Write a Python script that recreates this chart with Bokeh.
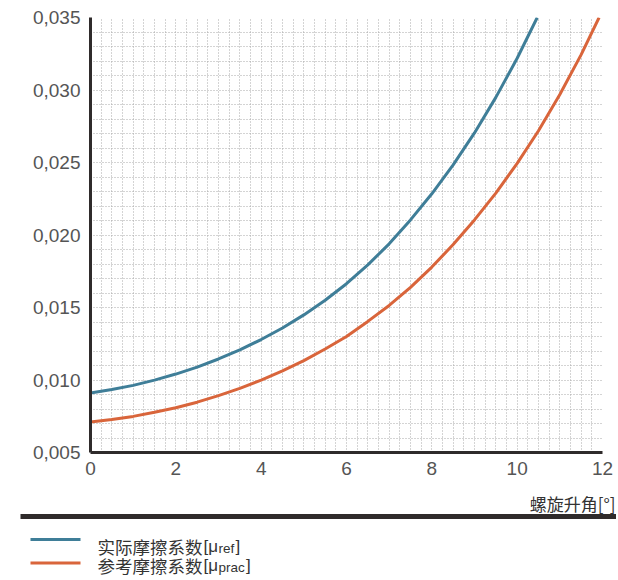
from bokeh.plotting import figure
from bokeh.models import Range1d, FixedTicker, SingleIntervalTicker, CustomJSTickFormatter, Label
from bokeh.layouts import column
from bokeh.embed import file_html
from bokeh.resources import INLINE

# ---- data ----
angle_ref = [0, 0.5, 1, 1.5, 2, 2.5, 3, 3.5, 4, 4.5, 5, 5.5, 6, 6.5, 7, 7.5, 8, 8.5, 9, 9.5, 10, 10.47]
mu_ref = [0.00910, 0.00934, 0.00963, 0.00999, 0.01041, 0.01089, 0.01145, 0.01208, 0.01279, 0.01359,
          0.01449, 0.01550, 0.01664, 0.01794, 0.01939, 0.02104, 0.02284, 0.02484, 0.02704, 0.02949,
          0.03219, 0.03500]
angle_prac = [0, 0.5, 1, 1.5, 2, 2.5, 3, 3.5, 4, 4.5, 5, 5.5, 6, 6.5, 7, 7.5, 8, 8.5, 9, 9.5, 10,
              10.5, 11, 11.5, 11.92]
mu_prac = [0.00710, 0.00727, 0.00749, 0.00777, 0.00809, 0.00847, 0.00892, 0.00942, 0.00999, 0.01063,
           0.01134, 0.01214, 0.01300, 0.01404, 0.01514, 0.01639, 0.01779, 0.01934, 0.02104, 0.02289,
           0.02494, 0.02719, 0.02969, 0.03244, 0.03500]
x_ticks = [0, 2, 4, 6, 8, 10, 12]
y_ticks = [0.005, 0.010, 0.015, 0.020, 0.025, 0.030, 0.035]
x_label = "螺旋升角[°]"
legend_names = ["实际摩擦系数", "参考摩擦系数"]
legend_subs = ["ref", "prac"]

BLUE = "#3f7e98"
ORANGE = "#d9653b"
DARK = "#2f2b2b"
TEXT = "#333333"
TICK_COLOR = "#555555"

W = 616
FL, FT, FW, FH = 90, 17, 512, 435          # frame left/top/width/height on the canvas
FB = FT + FH
H1 = 488                                    # chart part
H2 = 90                                     # title / rule / legend part

p = figure(width=W, height=H1, x_range=Range1d(0, 12), y_range=Range1d(0.005, 0.035),
           output_backend="svg", toolbar_location=None,
           min_border_left=FL, min_border_right=W - FL - FW, min_border_top=FT,
           min_border_bottom=H1 - FB)
p.frame_align = False
p.outline_line_color = None
p.background_fill_color = "white"

# grid
p.xgrid.ticker = SingleIntervalTicker(interval=0.25)
p.ygrid.ticker = SingleIntervalTicker(interval=0.001)
for g in (p.xgrid, p.ygrid):
    g.grid_line_color = "#a8a8a8"
    g.grid_line_dash = "1 2"
    g.grid_line_width = 1

# axes
p.xaxis.ticker = FixedTicker(ticks=x_ticks)
p.yaxis.ticker = FixedTicker(ticks=y_ticks)
p.xaxis.formatter = CustomJSTickFormatter(code="return tick.toFixed(0)")
p.yaxis.formatter = CustomJSTickFormatter(code="return tick.toFixed(3).replace('.', ',')")
for ax in (p.xaxis, p.yaxis):
    ax.axis_line_width = 3
    ax.axis_line_color = DARK
    ax.major_tick_line_color = None
    ax.minor_tick_line_color = None
    ax.major_tick_out = 0
    ax.major_tick_in = 0
    ax.minor_tick_out = 0
    ax.minor_tick_in = 0
    ax.major_label_text_font = "Liberation Sans"
    ax.major_label_text_font_size = "19px"
    ax.major_label_text_color = TICK_COLOR
p.yaxis.major_label_standoff = 10
p.xaxis.major_label_standoff = 9

p.line(angle_ref, mu_ref, line_color=BLUE, line_width=3)
p.line(angle_prac, mu_prac, line_color=ORANGE, line_width=3)

# ---- lower part: axis title, heavy rule, legend (pixel coordinates, y down) ----
q = figure(width=W, height=H2, x_range=Range1d(0, W), y_range=Range1d(H2, 0),
           output_backend="svg", toolbar_location=None, min_border=0,
           x_axis_location=None, y_axis_location=None)
q.frame_align = False
q.outline_line_color = None
q.xgrid.visible = False
q.ygrid.visible = False

Y0 = H1  # page y of q's top


def ly(page_y):
    return page_y - Y0


q.add_layout(Label(x=W - 1, y=ly(503), text=x_label, text_align="right", text_baseline="alphabetic",
                   text_font="Noto Sans CJK SC", text_font_size="17px", text_color=TEXT))
q.segment(x0=[20], y0=[ly(516)], x1=[W], y1=[ly(516)], line_width=5, line_color=DARK)

colors = [BLUE, ORANGE]
line_y = [539, 562.5]
base_y = [546, 565]
close_x = [235, 245.5]
for i in range(2):
    q.segment(x0=[30], y0=[ly(line_y[i])], x1=[80], y1=[ly(line_y[i])], line_width=3,
              line_color=colors[i])
    q.add_layout(Label(x=97, y=ly(base_y[i]), text=legend_names[i], text_baseline="alphabetic",
                       text_font="Noto Sans CJK SC", text_font_size="17.5px", text_color=TEXT))
    q.add_layout(Label(x=203, y=ly(base_y[i]), text="[μ", text_baseline="alphabetic",
                       text_font="Liberation Sans", text_font_size="17px", text_color=TEXT))
    q.add_layout(Label(x=218, y=ly(base_y[i] + 2), text=legend_subs[i], text_baseline="alphabetic",
                       text_font="Liberation Sans", text_font_size="13.5px", text_color=TEXT))
    q.add_layout(Label(x=close_x[i], y=ly(base_y[i]), text="]", text_baseline="alphabetic",
                       text_font="Liberation Sans", text_font_size="17px", text_color=TEXT))

layout = column(p, q)
open("out.html", "w").write(file_html(layout, INLINE))
